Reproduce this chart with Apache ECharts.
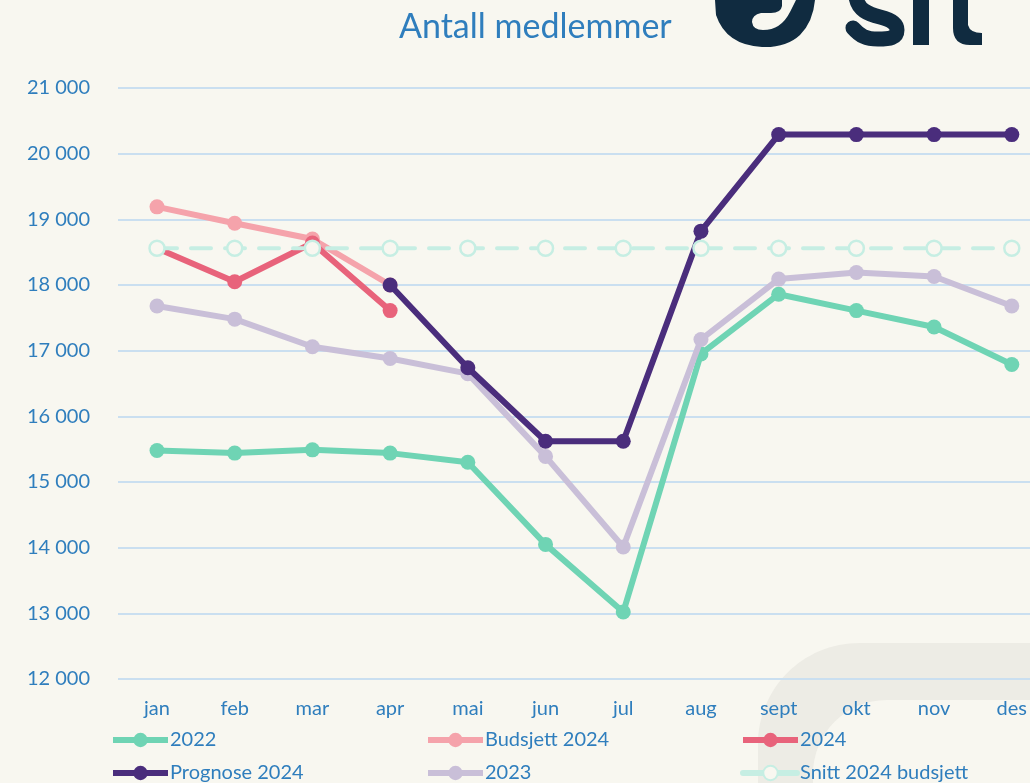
<!DOCTYPE html>
<html>
<head>
<meta charset="utf-8">
<script src="https://cdn.jsdelivr.net/npm/echarts@6/dist/echarts.min.js"></script>
<style>
  html, body { margin: 0; padding: 0; background: #f8f7f0; }
  #main { width: 1030px; height: 783px; }
</style>
</head>
<body>
<div id="main"></div>
<script>
var months = ['jan', 'feb', 'mar', 'apr', 'mai', 'jun', 'jul', 'aug', 'sept', 'okt', 'nov', 'des'];
var s2022 = [15480, 15440, 15490, 15440, 15300, 14050, 13020, 16950, 17860, 17610, 17360, 16790];
var s2023 = [17680, 17480, 17060, 16880, 16650, 15390, 14010, 17170, 18090, 18190, 18130, 17680];
var budsjett2024 = [19190, 18940, 18700, 18000];
var s2024 = [18560, 18050, 18640, 17610];
var prognose2024 = ['-', '-', '-', 18000, 16740, 15620, 15620, 18820, 20290, 20290, 20290, 20290];
var snitt2024 = [18560, 18560, 18560, 18560, 18560, 18560, 18560, 18560, 18560, 18560, 18560, 18560];

var txt = '#2f7ebd';
var font = 'Lato, "Open Sans", sans-serif';
var navy = '#102b40';

var myChart = echarts.init(document.getElementById('main'));

function line(name, data, color, z) {
    return {
        name: name,
        type: 'line',
        data: data,
        xAxisIndex: 1,
        yAxisIndex: 1,
        z: z,
        symbol: 'circle',
        symbolSize: 15,
        lineStyle: { width: 6, color: color },
        itemStyle: { color: color },
        emphasis: { disabled: true }
    };
}

function leg(name, left, top) {
    return {
        data: [name],
        left: left,
        top: top,
        padding: 0,
        itemWidth: 55,
        itemHeight: 18,
        itemGap: 0,
        lineStyle: { width: 6 },
        textStyle: { color: txt, fontSize: 20, fontFamily: font, padding: [0, 0, 0, -3] }
    };
}

// background watermark and logo, drawn in pixels
function decor() {
    return {
        type: 'group',
        children: [
            { type: 'path', z2: -10,
              shape: { pathData: 'M758 783 L758 745 C758 689 802 643 860 643 L1030 643 L1030 700 L887 700 C846 700 813 733 813 775 L813 783 Z' },
              style: { fill: '#edece5' } },
            { type: 'path',
              shape: { pathData: 'M715 0 L782 0 L782 6 Q781 13 771 13 L761 13 Q752 15 752 22 Q753 30 763 30 Q781 30 790 12 L796 0 L815 0 Q813 22 800 35 Q786 48 762 47 Q726 45 716 15 Z' },
              style: { fill: navy } },
            { type: 'path',
              shape: { pathData: 'M856 -3 C858 10 868 14 880 17 C893 20 897 25 897 30 C897 38 890 39 878 39 C866 39 860 36 853 28' },
              style: { fill: 'none', stroke: navy, lineWidth: 15, lineCap: 'round' } },
            { type: 'rect',
              shape: { x: 913, y: 0, width: 16, height: 45 },
              style: { fill: navy } },
            { type: 'path',
              shape: { pathData: 'M953 0 L953 28 Q953 45 970 45 L982 45 L982 33 Q970 33 968 25 L968 0 Z' },
              style: { fill: navy } }
        ]
    };
}

option = {
    backgroundColor: '#f8f7f0',
    animation: false,
    title: {
        text: 'Antall medlemmer',
        left: 394,
        top: 5,
        textStyle: { color: txt, fontSize: 34, fontWeight: 'normal', fontFamily: font }
    },
    legend: [
        leg('2022', 110, 730),
        leg('Budsjett 2024', 425, 730),
        leg('2024', 740, 730),
        leg('Prognose 2024', 110, 763),
        leg('2023', 425, 763),
        leg('Snitt 2024 budsjett', 740, 763)
    ],
    // grid 0 carries the gridlines and y labels, grid 1 the data
    grid: [
        { left: 118, right: 0, top: 88, bottom: 104 },
        { left: 157, right: 18, top: 88, bottom: 104 }
    ],
    xAxis: [
        { type: 'category', gridIndex: 0, data: months, show: false },
        {
            type: 'category',
            gridIndex: 1,
            data: months,
            boundaryGap: false,
            axisLine: { show: false },
            axisTick: { show: false },
            axisLabel: { color: txt, fontSize: 20, fontFamily: font, margin: 20 }
        }
    ],
    yAxis: [
        {
            type: 'value',
            gridIndex: 0,
            min: 12000,
            max: 21000,
            interval: 1000,
            axisLine: { show: false },
            axisTick: { show: false },
            splitLine: { lineStyle: { color: '#cadff0', width: 2 } },
            axisLabel: {
                color: txt, fontSize: 20, fontFamily: font, margin: 28,
                formatter: function (v) {
                    return String(v).replace(/\B(?=(\d{3})+(?!\d))/g, ' ');
                }
            }
        },
        {
            type: 'value',
            gridIndex: 1,
            min: 12000,
            max: 21000,
            interval: 1000,
            show: false,
            splitLine: { show: false }
        }
    ],
    series: [
        {
            type: 'custom',
            coordinateSystem: 'none',
            silent: true,
            z: 0,
            data: [0],
            renderItem: decor
        },
        line('2022', s2022, '#6fd4b4', 2),
        line('2023', s2023, '#c9bfd8', 3),
        line('Budsjett 2024', budsjett2024, '#f5a3ab', 4),
        line('2024', s2024, '#e8637b', 5),
        line('Prognose 2024', prognose2024, '#4a2d7c', 6),
        {
            name: 'Snitt 2024 budsjett',
            type: 'line',
            data: snitt2024,
            xAxisIndex: 1,
            yAxisIndex: 1,
            z: 7,
            symbol: 'circle',
            symbolSize: 15,
            lineStyle: { width: 4, color: '#c6eee3', type: [20, 14], cap: 'round' },
            itemStyle: { color: '#f8f7f0', borderColor: '#c6eee3', borderWidth: 2.5 },
            emphasis: { disabled: true }
        }
    ]
};
myChart.setOption(option);
</script>
</body>
</html>
